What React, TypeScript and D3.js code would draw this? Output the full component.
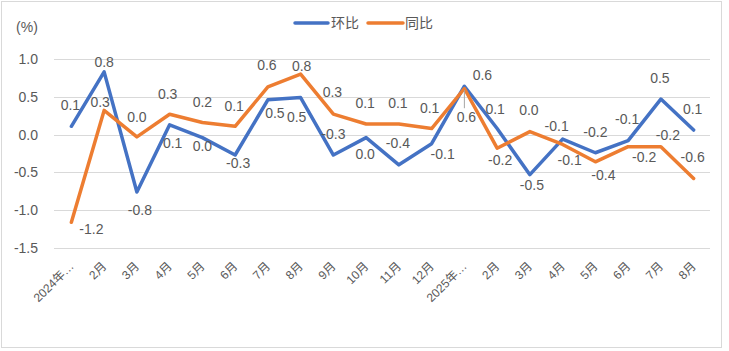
import React from 'react';
import * as d3 from 'd3';

// months on the x axis
const months = ['2024年…', '2月', '3月', '4月', '5月', '6月', '7月', '8月', '9月', '10月', '11月', '12月',
	'2025年…', '2月', '3月', '4月', '5月', '6月', '7月', '8月'];
// 环比
const mom = [0.11, 0.83, -0.76, 0.13, -0.04, -0.27, 0.46, 0.49, -0.27, -0.04, -0.40, -0.12,
	0.64, 0.08, -0.53, -0.06, -0.24, -0.08, 0.47, 0.06];
// 同比
const yoy = [-1.16, 0.32, -0.03, 0.27, 0.16, 0.11, 0.63, 0.80, 0.27, 0.14, 0.14, 0.08,
	0.61, -0.18, 0.04, -0.13, -0.36, -0.16, -0.16, -0.58];
const yTicks = [1.0, 0.5, 0.0, -0.5, -1.0, -1.5];

// data label offsets (text centre relative to point)
const momLabelOff = [[-1, -21], [0, -10], [3, 18], [3, 18], [0, 8], [3, 8], [7, 13], [-4, 20], [0, -21], [-1, 16],
	[-1, -22], [11, 10], [2, 31], [-2, -19], [2, 10], [-6, -13], [0, -21], [-1, -22], [-1, -21], [-1, -21]];
const yoyLabelOff = [[20, 7], [-4, -8], [0, -20], [-2, -20], [0, -20], [-1, -20], [-1, -22], [1, -8], [-1, -22], [-1, -21],
	[-1, -21], [-2, -20], [18, -13], [3, 12], [-1, -21], [7, 16], [8, 13], [16, 10], [7, -12], [-1, -21]];

const W = 729;
const H = 351;
const BLUE = '#4472C4';
const ORANGE = '#ED7D31';
const TEXT = '#595959';
const FONT = '"Liberation Sans", "Noto Sans CJK SC", sans-serif';

const fmt = (v: number) => (Math.abs(v) < 0.05 ? '0.0' : v.toFixed(1));

const App = () => {
	const x = d3.scalePoint<number>().domain(d3.range(months.length)).range([55, 710]).padding(0.5);
	const y = d3.scaleLinear().domain([-1.5, 1.0]).range([248, 59]);
	const line = d3.line<number>().x((_, i) => x(i) as number).y((d) => y(d));

	const labels = (vals: number[], off: number[][], key: string) => vals.map((v, i) => (
		<text key={ key + i } x={ (x(i) as number) + off[i][0] } y={ y(v) + off[i][1] } dy="0.35em"
			textAnchor="middle" fontSize={ 14 } fill={ TEXT }>{ fmt(v) }</text>
	));

	return (
		<svg width={ W } height={ H } style={ { position: 'absolute', left: 0, top: 0 } } fontFamily={ FONT }>
			<rect x={ 0 } y={ 0 } width={ W } height={ H } fill="#fff"/>
			<rect x={ 1.5 } y={ 1.5 } width={ 720 } height={ 346 } fill="none" stroke="#d9d9d9"/>
			<text x={ 27 } y={ 27 } dy="0.35em" textAnchor="middle" fontSize={ 14 } fill={ TEXT }>(%)</text>
			{ yTicks.map((t) => (
				<g key={ t }>
					<line x1={ 54 } x2={ 710 } y1={ Math.round(y(t)) + 0.5 } y2={ Math.round(y(t)) + 0.5 } stroke="#d9d9d9"/>
					<text x={ 38 } y={ y(t) } dy="0.35em" textAnchor="end" fontSize={ 14 } fill={ TEXT }>{ t.toFixed(1) }</text>
				</g>
			)) }
			{ months.map((m, i) => (
				<text key={ 'm' + i } transform={ `translate(${ (x(i) as number) + 3 },267) rotate(-45)` }
					textAnchor="end" fontSize={ 12 } fill={ TEXT }>{ m }</text>
			)) }
			<path d={ line(mom) ?? '' } fill="none" stroke={ BLUE } strokeWidth={ 3.5 } strokeLinejoin="round" strokeLinecap="round"/>
			<path d={ line(yoy) ?? '' } fill="none" stroke={ ORANGE } strokeWidth={ 3.5 } strokeLinejoin="round" strokeLinecap="round"/>
			<line x1={ x(12) } x2={ x(12) } y1={ y(mom[12]) + 4 } y2={ y(mom[12]) + 22 } stroke="#a6a6a6"/>
			{ labels(mom, momLabelOff, 'b') }
			{ labels(yoy, yoyLabelOff, 'o') }
			<line x1={ 295 } x2={ 328 } y1={ 23 } y2={ 23 } stroke={ BLUE } strokeWidth={ 3.5 } strokeLinecap="round"/>
			<text x={ 331 } y={ 23 } dy="0.35em" fontSize={ 14 } fill={ TEXT }>环比</text>
			<line x1={ 368 } x2={ 403 } y1={ 23 } y2={ 23 } stroke={ ORANGE } strokeWidth={ 3.5 } strokeLinecap="round"/>
			<text x={ 405 } y={ 23 } dy="0.35em" fontSize={ 14 } fill={ TEXT }>同比</text>
		</svg>
	);
};

export default App;
